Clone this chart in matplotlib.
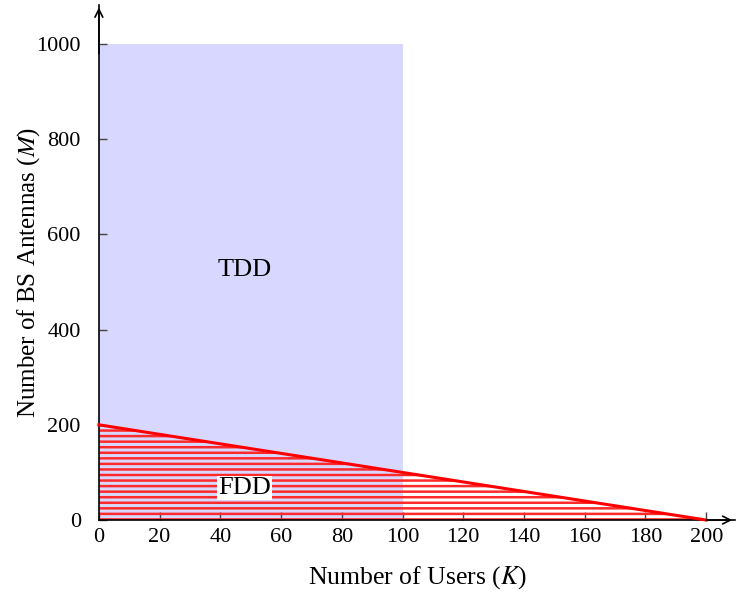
import matplotlib
matplotlib.use('Agg')
import matplotlib.pyplot as plt
from matplotlib.patches import Polygon, Rectangle

# regions of the (K, M) plane
tdd_k = [0, 100]
tdd_m = [0, 1000]
fdd_k = [0, 0, 200]
fdd_m = [0, 200, 0]
boundary_k = [0, 200]
boundary_m = [200, 0]

x_ticks = [0, 20, 40, 60, 80, 100, 120, 140, 160, 180, 200]
y_ticks = [0, 200, 400, 600, 800, 1000]

plt.rcParams['font.family'] = ['Liberation Serif', 'DejaVu Serif']
plt.rcParams['mathtext.fontset'] = 'stix'
plt.rcParams['hatch.linewidth'] = 1.8

fig = plt.figure(figsize=(7.38, 5.93), dpi=100)
ax = fig.add_axes([0.134, 0.123, 0.862, 0.869])

ax.add_patch(Rectangle((tdd_k[0], tdd_m[0]), tdd_k[1] - tdd_k[0], tdd_m[1] - tdd_m[0],
                       facecolor='#d7d7ff', edgecolor='none', zorder=1))
ax.add_patch(Polygon(list(zip(fdd_k, fdd_m)), closed=True, facecolor='none',
                     edgecolor='#ff2a2a', linewidth=0, hatch='---', zorder=2))
ax.plot(boundary_k, boundary_m, color='red', lw=2.2, zorder=3, clip_on=False)

ax.text(48, 525, 'TDD', fontsize=19, ha='center', va='center', zorder=4)
ax.text(48, 67, 'FDD', fontsize=19, ha='center', va='center', zorder=4,
        bbox=dict(facecolor='white', edgecolor='none', pad=1))

ax.set_xlim(0, 209.5)
ax.set_ylim(0, 1082)
ax.set_xticks(x_ticks)
ax.set_yticks(y_ticks)
ax.tick_params(direction='in', length=6, width=1, color='#444444', labelsize=16)
ax.tick_params(axis='x', pad=6)
ax.tick_params(axis='y', pad=13)
for side in ['top', 'right']:
    ax.spines[side].set_visible(False)
for side in ['left', 'bottom']:
    ax.spines[side].set_linewidth(1.2)

# arrow heads on the axes
ax.annotate('', xy=(0, 1.0), xycoords='axes fraction', xytext=(0, 0.9),
            arrowprops=dict(arrowstyle='->', lw=1.2, color='black', mutation_scale=14))
ax.annotate('', xy=(1.0, 0), xycoords='axes fraction', xytext=(0.95, 0),
            arrowprops=dict(arrowstyle='->', lw=1.2, color='black', mutation_scale=14))

ax.set_xlabel('Number of Users ($K$)', fontsize=18.5, labelpad=12)
ax.set_ylabel('Number of BS Antennas ($M$)', fontsize=18)
ax.yaxis.set_label_coords(-0.09, 0.48)

fig.savefig('out.png', dpi=100)
